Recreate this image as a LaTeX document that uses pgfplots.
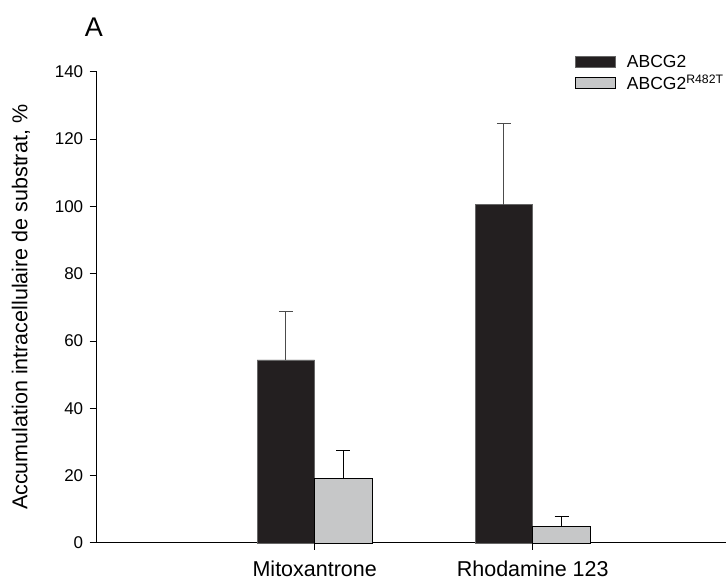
\documentclass[border=0pt]{standalone}
\usepackage{pgfplots}
\pgfplotsset{compat=1.18}
\usepackage{fontspec}
\setmainfont{Liberation Sans}
\definecolor{barblack}{HTML}{231F20}
\definecolor{bargrey}{HTML}{C6C7C8}
\begin{document}
\begin{tikzpicture}
\begin{axis}[
  at={(0pt,0pt)}, anchor=south west,
  scale only axis, width=629pt, height=471.3pt,
  xmin=0, xmax=2.885, ymin=0, ymax=140,
  axis lines=left, axis line style={-, line width=1pt, black},
  clip=false,
  xtick={1,2}, xticklabels={Mitoxantrone, Rhodamine 123},
  ytick={0,20,...,140},
  tick align=outside, major tick length=7pt,
  tick style={line width=1pt, black},
  /pgf/number format/assume math mode=true,
  yticklabel style={font=\fontsize{17}{20}\selectfont, xshift=-3pt},
  xticklabel style={font=\fontsize{21.5}{25}\selectfont, yshift=-7pt},
  ylabel={Accumulation intracellulaire de substrat, \%},
  ylabel style={at={(axis description cs:-0.1203,0.5)}, anchor=center, rotate=0, font=\fontsize{21.5}{25}\selectfont},
  legend image code/.code={\draw[#1] (0pt,-5.5pt) rectangle (40pt,5.5pt);},
  legend style={at={(axis description cs:0.7604,1.040)}, anchor=north west, draw=none, fill=none, inner sep=0pt, font=\fontsize{17.5}{21}\selectfont, row sep=2pt,
    /tikz/every odd column/.append style={column sep=9pt}},
  legend cell align=left,
]
\addplot[ybar, bar width=57.5pt, bar shift=0pt, fill=barblack, draw=black!60, line width=0.6pt,
  error bars/.cd, y dir=plus, y explicit, error mark=|,
  error bar style={black!70, line width=1pt},
  error mark options={black!70, mark size=7pt, line width=1pt}]
  coordinates {(0.8681,54.4) +- (0,14.4) (1.8681,100.5) +- (0,24.2)};
\addlegendentry{ABCG2}
\addplot[ybar, bar width=57.5pt, bar shift=0pt, fill=bargrey, draw=black, line width=0.8pt,
  error bars/.cd, y dir=plus, y explicit, error mark=|,
  error bar style={black, line width=1pt},
  error mark options={black, mark size=7pt, line width=1pt}]
  coordinates {(1.1319,19.3) +- (0,8.3) (2.1319,4.9) +- (0,2.9)};
\addlegendentry{ABCG2\textsuperscript{R482T}}
\node[anchor=base, font=\fontsize{27}{30}\selectfont] at (axis description cs:-0.0043,1.0757) {A};
\end{axis}
\pgfresetboundingbox
\path (-96.7pt,-42pt) rectangle (629.3pt,543pt);
\end{tikzpicture}
\end{document}
